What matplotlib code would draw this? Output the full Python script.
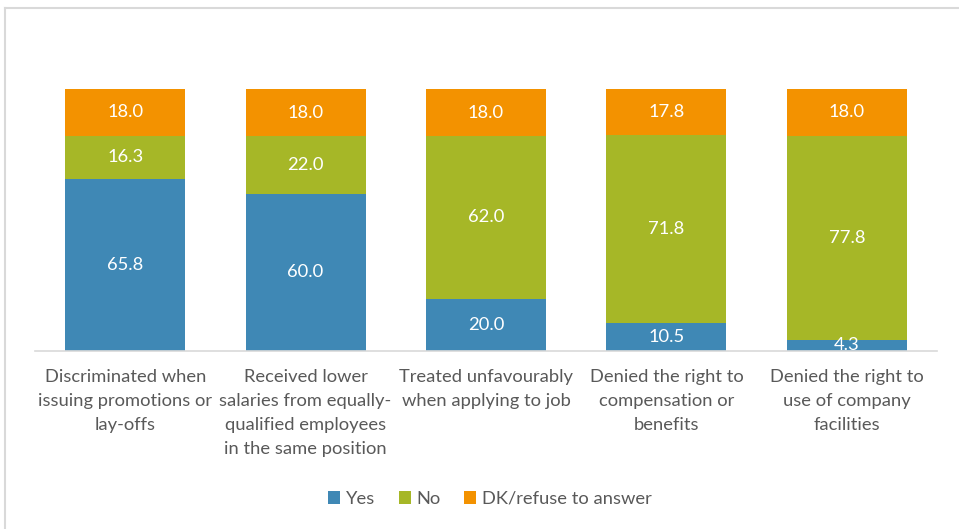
import matplotlib.pyplot as plt
from matplotlib.lines import Line2D
import numpy as np

plt.rcParams['font.family'] = ['Lato', 'DejaVu Sans']

categories = ['Discriminated when\nissuing promotions or\nlay-offs',
              'Received lower\nsalaries from equally-\nqualified employees\nin the same position',
              'Treated unfavourably\nwhen applying to job',
              'Denied the right to\ncompensation or\nbenefits',
              'Denied the right to\nuse of company\nfacilities']
yes = [65.8, 60.0, 20.0, 10.5, 4.3]
no = [16.3, 22.0, 62.0, 71.8, 77.8]
dk = [18.0, 18.0, 18.0, 17.8, 18.0]

series = [('Yes', yes, '#3f88b5'), ('No', no, '#a6b727'), ('DK/refuse to answer', dk, '#f39200')]
text_grey = '#595959'
fs = 13.2

fig = plt.figure(figsize=(9.59, 5.29), dpi=100, facecolor='white')
ax = fig.add_axes([35 / 959, 1 - 351 / 529, 902 / 959, 262 / 529])

x = np.arange(len(categories))
bottom = np.zeros(len(categories))
for name, vals, color in series:
    vals = np.array(vals)
    ax.bar(x, vals, bottom=bottom, width=0.665, color=color, label=name,
           edgecolor='none')
    for xi, b, v in zip(x, bottom, vals):
        ax.text(xi, b + v / 2, f'{v:.1f}', ha='center', va='center',
                color='white', fontsize=fs)
    bottom += vals

ax.set_xlim(-0.5, len(categories) - 0.5)
ax.set_ylim(0, 100)
ax.set_yticks([])
ax.set_xticks(x)
ax.set_xticklabels(categories, fontsize=fs, color=text_grey, linespacing=1.62)
ax.tick_params(axis='x', length=0, pad=13)
for side in ['top', 'right', 'left']:
    ax.spines[side].set_visible(False)
ax.spines['bottom'].set_color('#d9d9d9')
ax.spines['bottom'].set_linewidth(1.2)

leg = fig.legend(loc='center', bbox_to_anchor=(490 / 959, 1 - 499 / 529), ncol=3,
                 frameon=False, fontsize=fs, handlelength=0.65, handleheight=0.65,
                 columnspacing=1.3, handletextpad=0.3)
for t in leg.get_texts():
    t.set_color(text_grey)

# light frame along the top and left edges
fig.add_artist(Line2D([4.5 / 959, 1], [1 - 7.5 / 529, 1 - 7.5 / 529],
                      transform=fig.transFigure, color='#d9d9d9', lw=1.5))
fig.add_artist(Line2D([4.5 / 959, 4.5 / 959], [0, 1 - 7.5 / 529],
                      transform=fig.transFigure, color='#d9d9d9', lw=1.5))

fig.savefig('out.png', dpi=100, facecolor='white')
